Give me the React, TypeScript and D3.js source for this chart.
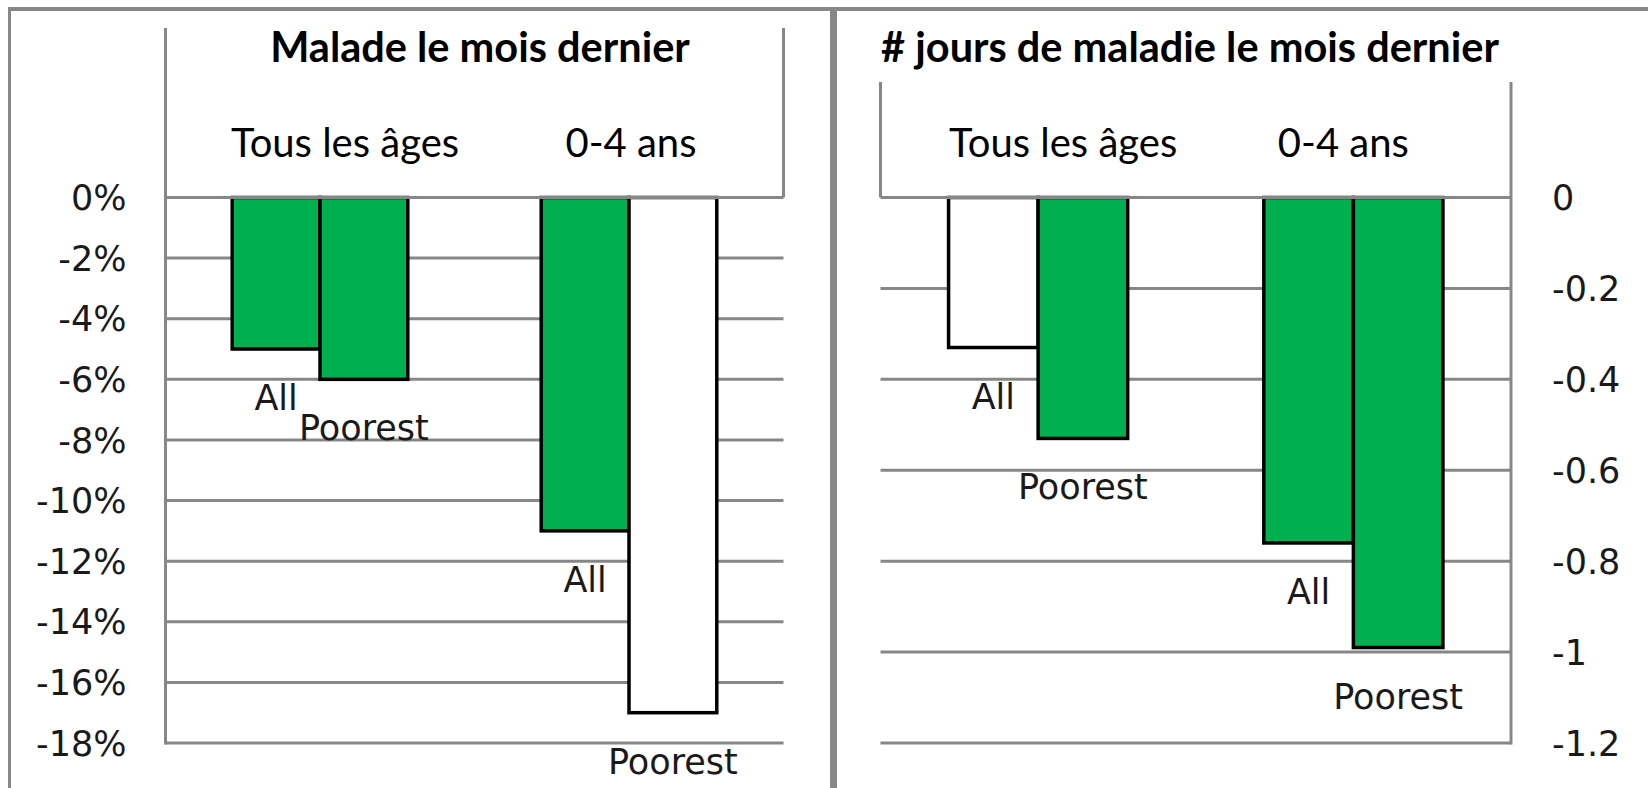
import React from "react";
import * as d3 from "d3";

// categories and series
const categories = ["Tous les âges", "0-4 ans"];
const seriesNames = ["All", "Poorest"];

// left chart: share sick last month (per category: [All, Poorest])
const sickShare = [
  [-0.05, -0.06],
  [-0.11, -0.17],
];
const sickShareGreen = [
  [true, true],
  [true, false],
];
const sickShareTicks = [0, -0.02, -0.04, -0.06, -0.08, -0.1, -0.12, -0.14, -0.16, -0.18];

// right chart: number of sick days last month
const sickDays = [
  [-0.33, -0.53],
  [-0.76, -0.99],
];
const sickDaysGreen = [
  [false, true],
  [true, true],
];
const sickDaysTicks = [0, -0.2, -0.4, -0.6, -0.8, -1, -1.2];

const GREEN = "#00b050";
const GRID = "#878787";
const TITLE_FONT = "Lato, 'Open Sans', sans-serif";
const AXIS_FONT = "'DejaVu Sans', Verdana, sans-serif";

type PanelProps = {
  title: string;
  titleX: number;
  values: number[][];
  green: boolean[][];
  ticks: number[];
  fmt: (v: number) => string;
  left: number;
  right: number;
  boxTop: number;
  axisSide: "left" | "right";
  catDx: number[];
};

const Panel = ({ title, titleX, values, green, ticks, fmt, left, right, boxTop, axisSide, catDx }: PanelProps) => {
  const top = 197.5;
  const bottom = 743;
  const y = d3.scaleLinear().domain([0, d3.min(ticks)!]).range([top, bottom]);
  const x0 = d3.scaleBand().domain(categories).range([left, right]).padding(0);
  const x1 = d3
    .scaleBand()
    .domain(seriesNames)
    .range([0, x0.bandwidth()])
    .paddingInner(0)
    .paddingOuter(0.76);

  const axisX = axisSide === "left" ? left : right;
  const boxX = axisSide === "left" ? right : left;

  return (
    <g>
      <text
        x={titleX}
        y={62}
        textAnchor="middle"
        fontFamily={TITLE_FONT}
        fontWeight="bold"
        fontSize={41.5}
        fill="#000"
      >
        {title}
      </text>

      {/* gridlines below the zero line */}
      {ticks.slice(1).map((t) => (
        <line key={t} x1={left} x2={right} y1={y(t)} y2={y(t)} stroke={GRID} strokeWidth={3} />
      ))}

      {/* bars */}
      {categories.map((c, ci) =>
        seriesNames.map((s, si) => {
          const v = values[ci][si];
          const bx = x0(c)! + x1(s)!;
          return (
            <rect
              key={c + s}
              x={bx}
              y={y(0)}
              width={x1.bandwidth()}
              height={y(v) - y(0)}
              fill={green[ci][si] ? GREEN : "#fff"}
              stroke="#000"
              strokeWidth={3.5}
            />
          );
        })
      )}

      {/* zero line and frame */}
      <line x1={left} x2={right} y1={y(0)} y2={y(0)} stroke={GRID} strokeWidth={3} />
      <line x1={axisX} x2={axisX} y1={boxTop} y2={bottom + 1.5} stroke={GRID} strokeWidth={3} />
      <line x1={boxX} x2={boxX} y1={boxTop} y2={y(0)} stroke={GRID} strokeWidth={3} />

      {/* category labels */}
      {categories.map((c, ci) => (
        <text
          key={c}
          x={x0(c)! + x0.bandwidth() / 2 + catDx[ci]}
          y={157}
          textAnchor="middle"
          fontFamily={TITLE_FONT}
          fontSize={40}
          fill="#000"
        >
          {c}
        </text>
      ))}

      {/* tick labels */}
      {ticks.map((t) => (
        <text
          key={t}
          x={axisSide === "left" ? axisX - 39 : axisX + 41}
          y={y(t)}
          dy="0.36em"
          textAnchor={axisSide === "left" ? "end" : "start"}
          fontFamily={AXIS_FONT}
          fontSize={35}
          fill="#1a1a1a"
        >
          {fmt(t)}
        </text>
      ))}

      {/* data labels (series names) */}
      {categories.map((c, ci) =>
        seriesNames.map((s, si) => (
          <text
            key={c + s + "lbl"}
            x={x0(c)! + x1(s)! + x1.bandwidth() / 2}
            y={y(values[ci][si]) + 61}
            textAnchor="middle"
            fontFamily={AXIS_FONT}
            fontSize={35}
            fill="#1a1a1a"
          >
            {s}
          </text>
        ))
      )}
    </g>
  );
};

const pctFmt = (v: number) => `${Math.round(v * 100)}%`;
const numFmt = (v: number) => String(+v.toFixed(1));

export default function App() {
  return (
    <svg
      width={1648}
      height={788}
      style={{ position: "absolute", left: 0, top: 0, background: "#fff" }}
    >
      <rect width={1648} height={788} fill="#fff" />
      {/* outer frames */}
      <line x1={8} x2={1648} y1={9} y2={9} stroke={GRID} strokeWidth={4} />
      <line x1={9.5} x2={9.5} y1={7} y2={788} stroke={GRID} strokeWidth={3} />
      <line x1={833.5} x2={833.5} y1={7} y2={788} stroke={GRID} strokeWidth={7} />

      <Panel
        title="Malade le mois dernier"
        titleX={480}
        values={sickShare}
        green={sickShareGreen}
        ticks={sickShareTicks}
        fmt={pctFmt}
        left={165.5}
        right={783.5}
        boxTop={28}
        axisSide="left"
        catDx={[25, 2]}
      />
      <Panel
        title="# jours de maladie le mois dernier"
        titleX={1190}
        values={sickDays}
        green={sickDaysGreen}
        ticks={sickDaysTicks}
        fmt={numFmt}
        left={880.5}
        right={1511}
        boxTop={82}
        axisSide="right"
        catDx={[25, -10]}
      />
    </svg>
  );
}
